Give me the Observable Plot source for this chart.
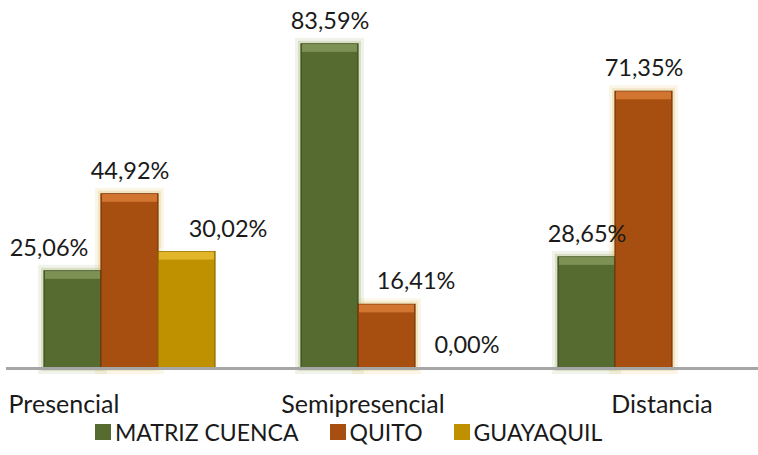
<!DOCTYPE html>
<html><head><meta charset="utf-8">
<script src="https://cdn.jsdelivr.net/npm/d3@7"></script>
<script src="https://cdn.jsdelivr.net/npm/@observablehq/plot@0.6"></script>
<style>
body{margin:0;background:#fff;font-family:Lato,"Open Sans",sans-serif;}
#legend .lg-swatch{margin-right:31px !important;}
#legend .lg-swatch svg{margin-right:4px !important;}
</style>
</head><body><div id="chart"></div><div id="legend"></div>
<script>
const categories = ["Presencial", "Semipresencial", "Distancia"];
const series = ["MATRIZ CUENCA", "QUITO", "GUAYAQUIL"];
const matrizCuenca = [25.06, 83.59, 28.65];
const quito = [44.92, 16.41, 71.35];
const guayaquil = [30.02, 0.00, null];
const colors = ["#566B2F", "#A64F10", "#BF9000"];
const edgeColors = ["#3D4D20", "#7A3608", "#8F6B00"];
const bevelColors = ["#8A9E60", "#E0823C", "#EDC33A"];
const glowColors = ["#AEBE86", "#E2C87A", "#FFFFFF"];

const values = [matrizCuenca, quito, guayaquil];
const data = [];
categories.forEach((c, i) => {
  values.forEach((arr, j) => {
    if (arr[i] != null) data.push({category: c, series: series[j], value: arr[i]});
  });
});
const fmt = v => v.toFixed(2).replace(".", ",") + "%";
const pos = data.filter(d => d.value > 0);
const pick = (arr) => d => arr[series.indexOf(d.series)];

// label nudges (pixels) as in the reference
const nudgeOf = d => ({"Presencial|MATRIZ CUENCA": -24, "Presencial|GUAYAQUIL": 41,
  "Semipresencial|QUITO": 29, "Semipresencial|GUAYAQUIL": 23})[d.category + "|" + d.series] || 0;
const labelMarks = [...new Set(data.map(nudgeOf))].map(dx =>
  Plot.text(data.filter(d => nudgeOf(d) === dx), {
    fx: "category", x: "series", y: "value", text: d => fmt(d.value),
    dy: -23, dx, fontSize: 23.5, fill: "#1a1a1a", lineAnchor: "middle"
  }));
const catShift = [-71, -29, 13];
const catMarks = categories.map((c, i) =>
  Plot.text([c], {fx: d => d, text: d => d, frameAnchor: "bottom", dy: 36, dx: catShift[i],
    fontSize: 25, fill: "#1a1a1a", lineAnchor: "middle"}));

const plot = Plot.plot({
  width: 758, height: 410,
  marginLeft: 5, marginRight: -19.5, marginTop: 19, marginBottom: 42,
  fx: {domain: categories, padding: 0, axis: null},
  x: {domain: series, paddingInner: 0, paddingOuter: 0.7325, align: 0.438, axis: null},
  y: {domain: [0, 90], axis: null},
  color: {domain: series, range: colors},
  style: {fontFamily: "Lato, 'Open Sans', sans-serif", background: "white", overflow: "visible"},
  marks: [
    Plot.barY(pos, {fx: "category", x: "series", y: "value", fill: "none", stroke: pick(glowColors), strokeWidth: 12, strokeOpacity: 0.18}),
    Plot.barY(pos, {fx: "category", x: "series", y: "value", fill: "none", stroke: pick(glowColors), strokeWidth: 6, strokeOpacity: 0.35}),
    Plot.barY(pos, {fx: "category", x: "series", y: "value", fill: "series", stroke: pick(edgeColors), strokeWidth: 1.2}),
    Plot.barY(pos, {fx: "category", x: "series", y1: "value", y2: "value", insetBottom: -8, insetLeft: 1, insetRight: 1, fill: pick(bevelColors), fillOpacity: 0.75}),
    Plot.ruleY([0], {stroke: "#A6A6A6", strokeWidth: 3}),
    ...labelMarks,
    ...catMarks
  ]
});
document.getElementById("chart").append(plot);

const legend = Plot.legend({
  color: {domain: series, range: colors},
  legend: "swatches", swatchSize: 16, className: "lg",
  style: {fontFamily: "Lato, 'Open Sans', sans-serif", fontSize: "23px", color: "#1a1a1a", marginLeft: "95px", marginTop: "5px", background: "white"}
});
document.getElementById("legend").append(legend);
</script>
</body></html>
